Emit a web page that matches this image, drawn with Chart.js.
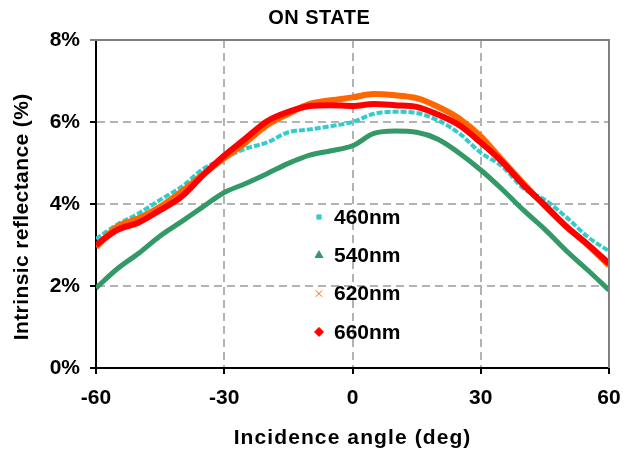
<!DOCTYPE html>
<html><head><meta charset="utf-8">
<script src="https://cdn.jsdelivr.net/npm/chart.js@4"></script>
<style>html,body{margin:0;padding:0;background:#fff}#wrap{width:634px;height:455px}</style>
</head><body><div id="wrap"><canvas id="c" width="634" height="455"></canvas></div>
<script>
// Data (incidence angle in degrees, reflectance in %)
const angles = [-60,-55,-50,-45,-40,-35,-30,-25,-20,-15,-10,-5,0,5,10,15,20,25,30,35,40,45,50,55,60];
const r460 = [3.15,3.50,3.77,4.10,4.42,4.85,5.12,5.35,5.50,5.75,5.82,5.90,6.00,6.20,6.25,6.22,6.04,5.72,5.25,4.92,4.38,4.10,3.68,3.20,2.85];
const r540 = [1.95,2.42,2.80,3.22,3.57,3.93,4.28,4.50,4.74,4.99,5.19,5.30,5.42,5.72,5.78,5.75,5.58,5.24,4.83,4.36,3.85,3.38,2.86,2.39,1.90];
const r620 = [2.95,3.45,3.65,3.93,4.30,4.72,5.12,5.50,5.92,6.20,6.44,6.53,6.60,6.68,6.65,6.58,6.37,6.08,5.65,5.07,4.50,3.95,3.45,3.00,2.50];
const r660 = [3.00,3.37,3.55,3.85,4.18,4.70,5.18,5.60,6.02,6.25,6.39,6.41,6.39,6.44,6.41,6.37,6.18,5.92,5.50,5.03,4.46,3.97,3.45,3.02,2.55];
const seriesLabels = ['460nm','540nm','620nm','660nm'];
const yTicks = [0,2,4,6,8];
const xTicks = [-60,-30,0,30,60];
const chartTitle = 'ON STATE';
const xTitle = 'Incidence angle (deg)';
const yTitle = 'Intrinsic reflectance (%)';

const FONT = "'Liberation Sans', Arial, sans-serif";
const colors = ['#33CCCC','#339966','#FF6600','#FF0000'];
const styles = ['rect','triangle','crossRot','rectRot'];
const widths = [4,5,6,6];
const seriesData = [r460,r540,r620,r660];

const pts = arr => angles.map((a,i)=>({x:a,y:arr[i]}));

const framePlugin = {
  id:'frame',
  afterDatasetsDraw(chart){
    const {ctx, chartArea:a} = chart;
    ctx.save();
    ctx.strokeStyle = '#808080'; ctx.lineWidth = 2;
    ctx.beginPath();
    ctx.moveTo(a.left - 6, a.top); ctx.lineTo(a.right, a.top); ctx.lineTo(a.right, a.bottom);
    ctx.stroke();
    ctx.restore();
  }
};

function spacedText(ctx, text, x, y, spacing){
  ctx.letterSpacing = spacing + 'px';
  // compensate for trailing spacing so the text stays centred
  ctx.fillText(text, x + spacing/2, y);
  ctx.letterSpacing = '0px';
}

const textPlugin = {
  id:'texts',
  afterDraw(chart){
    const ctx = chart.ctx;
    ctx.save();
    ctx.fillStyle = '#000';
    ctx.textAlign = 'center'; ctx.textBaseline = 'middle';
    ctx.font = "bold 20px " + FONT;
    spacedText(ctx, chartTitle, 319, 18, 0.5);
    ctx.font = "bold 21px " + FONT;
    spacedText(ctx, xTitle, 352, 438, 1.1);
    ctx.save();
    ctx.translate(22, 217);
    ctx.rotate(-Math.PI/2);
    ctx.font = "bold 21px " + FONT;
    spacedText(ctx, yTitle, 0, 0, 0.4);
    ctx.restore();

    // legend inside the plot
    const x0 = 319, tx = 334, y0 = 217, dy = 38.3;
    chart.data.datasets.forEach((ds,i)=>{
      const y = y0 + i*dy;
      ctx.fillStyle = colors[i]; ctx.strokeStyle = colors[i];
      Chart.helpers.drawPoint(ctx, {pointStyle: styles[i], radius: i===0?3:4.5, rotation:0, borderWidth: i===2?2.5:1}, x0, y);
      ctx.fillStyle = '#000';
      ctx.font = "bold 21px " + FONT;
      ctx.textAlign = 'left'; ctx.textBaseline = 'middle';
      ctx.fillText(ds.label, tx, y + 1);
    });
    ctx.restore();
  }
};

new Chart(document.getElementById('c'), {
  type:'line',
  data:{
    datasets: seriesData.map((d,i)=>({
      label: seriesLabels[i],
      data: pts(d),
      borderColor: colors[i],
      backgroundColor: colors[i],
      borderWidth: widths[i],
      borderDash: i===0 ? [6,2] : [],
      pointRadius: 0,
      cubicInterpolationMode: 'monotone',
      borderJoinStyle: 'round',
      order: 3 - i,
      fill: false
    }))
  },
  options:{
    responsive:false, animation:false,
    layout:{padding:{left:0,right:25,top:40,bottom:0}},
    plugins:{
      legend:{display:false},
      tooltip:{enabled:false},
      title:{display:false}
    },
    scales:{
      x:{
        type:'linear', min:-60, max:60,
        afterBuildTicks: s => { s.ticks = xTicks.map(v=>({value:v})); },
        afterFit: s => { s.height = 87; },
        ticks:{color:'#000', font:{family:FONT, size:21, weight:'bold'}, padding:12, maxRotation:0, callback:v=>String(v)},
        grid:{color: c => (c.tick && (c.tick.value===-60 || c.tick.value===60)) ? 'rgba(0,0,0,0)' : '#b3b3b3', lineWidth:2, tickColor:'#000', tickLength:6, tickWidth:2, tickBorderDash:[]},
        border:{color:'#000', width:2, dash:[8,5]},
        title:{display:false}
      },
      y:{
        type:'linear', min:0, max:8,
        afterBuildTicks: s => { s.ticks = yTicks.map(v=>({value:v})); },
        afterFit: s => { s.width = 96; },
        ticks:{color:'#000', font:{family:FONT, size:21, weight:'bold'}, padding:10, callback:v=>v+'%'},
        grid:{color: c => (c.tick && (c.tick.value===0 || c.tick.value===8)) ? 'rgba(0,0,0,0)' : '#b3b3b3', lineWidth:2, tickColor:'#000', tickLength:6, tickWidth:2, tickBorderDash:[]},
        border:{color:'#000', width:2, dash:[8,5]},
        title:{display:false}
      }
    }
  },
  plugins:[framePlugin, textPlugin]
});
</script></body></html>
